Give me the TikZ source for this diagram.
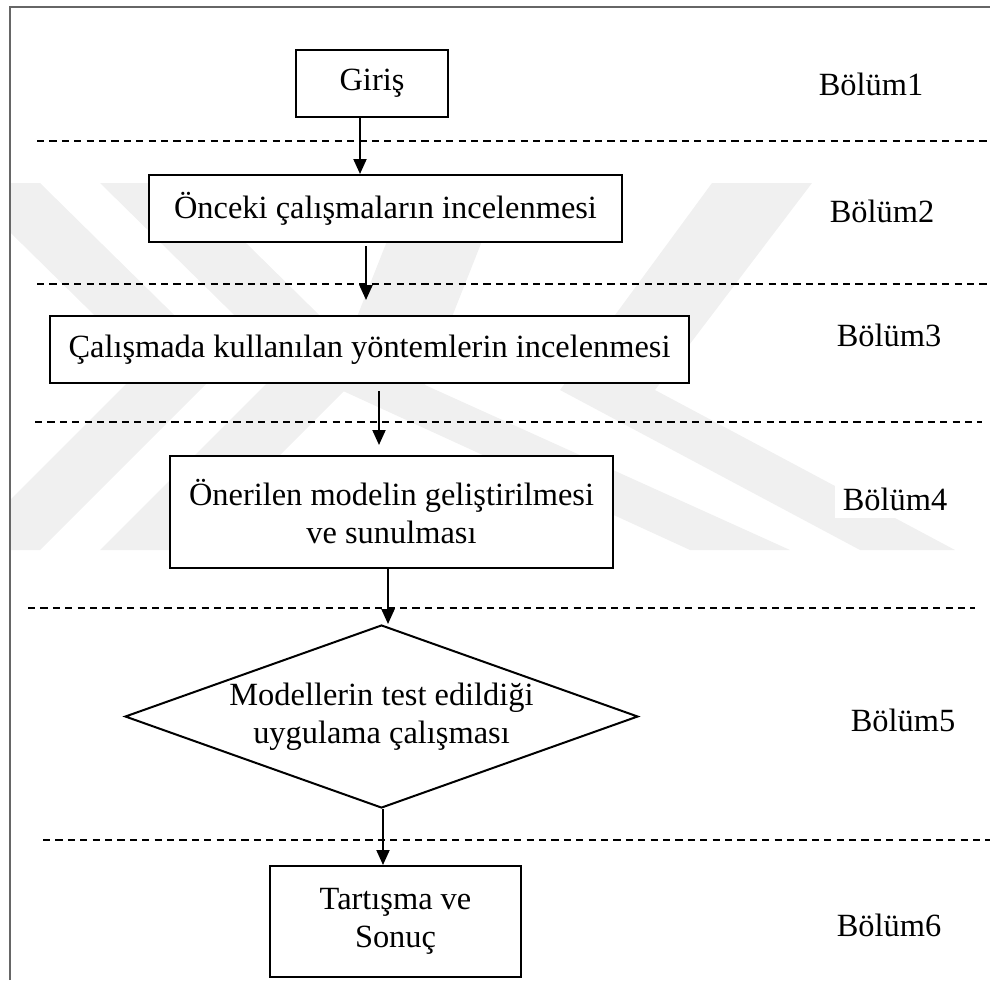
\documentclass[tikz,border=0pt]{standalone}
\usepackage{fontspec}
\setmainfont{Liberation Serif}
\usetikzlibrary{arrows.meta,shapes.geometric}
\begin{document}
\begin{tikzpicture}[x=0.5pt,y=-0.5pt,
  txt/.style={font=\fontsize{16.2}{19}\selectfont},
  box/.style={txt,draw,line width=1pt,fill=white,inner sep=0pt,align=center},
  lbl/.style={txt,fill=white,inner sep=4pt},
  sep/.style={line width=0.75pt,dash pattern=on 3.6pt off 2.6pt},
  arr/.style={line width=1pt,-{Triangle[length=7.5pt,width=6.5pt]}},
  wm/.style={fill=black!6,draw=none}]
\useasboundingbox (0,0) rectangle (990,980);
% faint watermark
\begin{scope}
\clip (10,7) rectangle (990,980);
\fill[wm] (-40,183) -- (40,183) -- (225,365) -- (40,550) -- (-40,550) -- (145,365) -- cycle;
\fill[wm] (100,183) -- (185,183) -- (370,365) -- (185,550) -- (100,550) -- (285,365) -- cycle;
\fill[wm] (505,183) -- (410,183) -- (330,385) -- (690,550) -- (790,550) -- (425,385) -- cycle;
\fill[wm] (812,183) -- (712,183) -- (560,390) -- (860,550) -- (955,550) -- (655,390) -- cycle;
\end{scope}
% frame
\draw[black!60,line width=1pt] (10,980) -- (10,7) -- (990,7);
% separators
\draw[sep] (37,141) -- (990,141);
\draw[sep] (37,284) -- (990,284);
\draw[sep] (35,422) -- (982,422);
\draw[sep] (28,608) -- (975,608);
\draw[sep] (43,840) -- (990,840);
% nodes
\node[box,minimum width=76pt,minimum height=33.5pt] (g) at (372,83.5) {Giriş};
\node[box,minimum width=236.5pt,minimum height=33.5pt] (b2) at (385.5,208.5) {Önceki çalışmaların incelenmesi};
\node[box,minimum width=319.5pt,minimum height=33.5pt] (b3) at (369.5,349.5) {Çalışmada kullanılan yöntemlerin incelenmesi};
\node[box,minimum width=221.5pt,minimum height=56pt] (b4) at (391.5,512) {Önerilen modelin geliştirilmesi\\ve sunulması};
\node[box,shape=diamond,aspect=2.8,minimum width=256.5pt,minimum height=91.5pt] (d5) at (381.5,716.5) {Modellerin test edildiği\\uygulama çalışması};
\node[box,minimum width=125.5pt,minimum height=55.5pt] (b6) at (395.5,921.5) {Tartışma ve\\Sonuç};
% labels
\node[lbl] (l1) at (871,84) {Bölüm1};
\node[lbl] (l2) at (882,211) {Bölüm2};
\node[lbl] (l3) at (889,335) {Bölüm3};
\node[lbl] (l4) at (895,499) {Bölüm4};
\node[lbl] (l5) at (903,720) {Bölüm5};
\node[lbl] (l6) at (889,925) {Bölüm6};
% arrows
\coordinate (x1) at (360,0);
\coordinate (x4) at (388,0);
\coordinate (x5) at (383,0);
\coordinate (s2) at (366,246); \coordinate (e2) at (366,300);
\coordinate (s3) at (379,391); \coordinate (e3) at (379,445);
\draw[arr] (x1 |- g.south) -- (x1 |- b2.north);
\draw[arr] (s2) -- (e2);
\draw[arr] (s3) -- (e3);
\draw[arr] (x4 |- b4.south) -- (x4 |- d5.north);
\draw[arr] (x5 |- d5.south) -- (x5 |- b6.north);
\end{tikzpicture}
\end{document}
